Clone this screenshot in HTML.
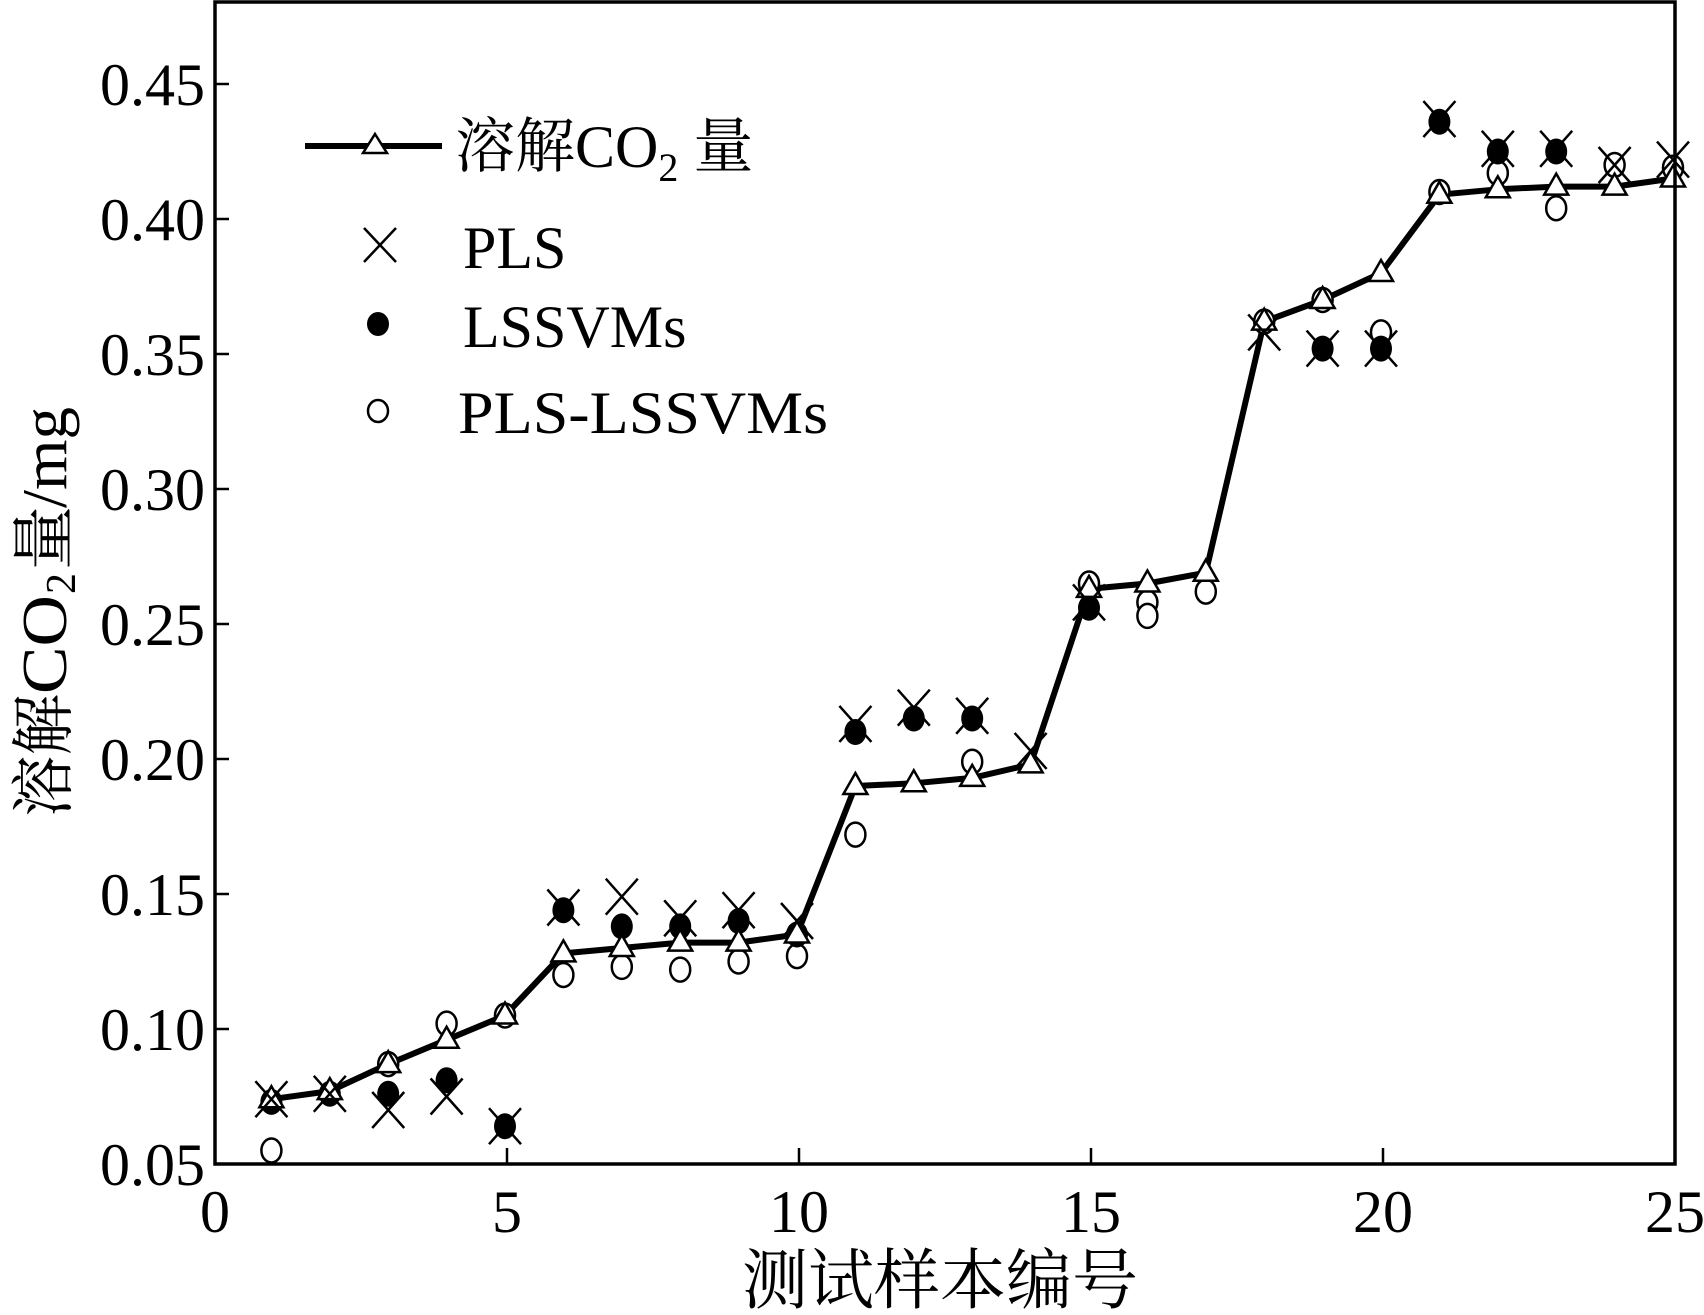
<!DOCTYPE html>
<html><head><meta charset="utf-8"><style>
html,body{margin:0;padding:0;background:#fff}
svg text{font-family:"Liberation Serif","Noto Serif CJK SC",serif;fill:#000}
</style></head><body>
<svg id="chart" width="1704" height="1310" viewBox="0 0 1704 1310" xmlns="http://www.w3.org/2000/svg">
<g id="marks"></g>
<g id="axes"></g>
<g>
  <line x1="305" y1="146" x2="442" y2="146" stroke="#000" stroke-width="6"/>
  <polygon points="375,134 387,153 363,153" fill="#fff" stroke="#000" stroke-width="2.5"/>
  <text x="455" y="167" font-size="60">溶解CO<tspan font-size="40" dy="14">2</tspan><tspan dy="-14"> 量</tspan></text>
  <g stroke="#000" stroke-width="2.5"><line x1="364" y1="228" x2="396" y2="262"/><line x1="396" y1="228" x2="364" y2="262"/></g>
  <text x="463" y="268" font-size="60">PLS</text>
  <ellipse cx="378" cy="324" rx="11" ry="12" fill="#000"/>
  <text x="463" y="347" font-size="60">LSSVMs</text>
  <ellipse cx="378" cy="411" rx="10" ry="11" fill="#fff" stroke="#000" stroke-width="2.5"/>
  <text x="458" y="433" font-size="60" textLength="370" lengthAdjust="spacingAndGlyphs">PLS-LSSVMs</text>
</g>
<text x="940" y="1303" font-size="66" text-anchor="middle">测试样本编号</text>
<g transform="translate(66,612) rotate(-90)" font-size="64">
  <text x="-205" y="0" textLength="123" lengthAdjust="spacingAndGlyphs">溶解</text>
  <text x="-82" y="0" textLength="99" lengthAdjust="spacingAndGlyphs">CO</text>
  <text x="18" y="9" font-size="42">2</text>
  <text x="42" y="0">量</text>
  <text x="104" y="0" textLength="101" lengthAdjust="spacingAndGlyphs">/mg</text>
</g>
</svg>
<script>
const samples = [1,2,3,4,5,6,7,8,9,10,11,12,13,14,15,16,17,18,19,20,21,22,23,24,25];
const measured = [0.074,0.077,0.087,0.096,0.105,0.128,0.130,0.132,0.132,0.135,0.190,0.191,0.193,0.198,0.263,0.265,0.269,0.362,0.370,0.380,0.409,0.411,0.412,0.412,0.415];
const plsPred = [0.074,0.076,0.070,0.075,0.064,0.145,0.149,0.141,0.144,0.140,0.213,0.219,0.216,0.203,0.258,null,null,0.358,0.352,0.352,0.437,0.426,0.426,0.420,0.422];
const lssvmPred = [0.073,0.076,0.076,0.081,0.064,0.144,0.138,0.138,0.140,0.135,0.210,0.215,0.215,null,0.256,null,null,null,0.352,0.352,0.436,0.425,0.425,null,null];
const plsLssvmPred = [0.055,null,0.087,0.102,0.105,0.120,0.123,0.122,0.125,0.127,0.172,null,0.199,null,0.265,0.258,0.262,0.362,0.370,0.358,0.410,0.417,0.404,0.420,0.419];
const plsLssvmExtra = [null,null,null,null,null,null,null,null,null,null,null,null,null,null,null,0.253,null,null,null,null,null,null,null,null,null];
const xTicks = [0,5,10,15,20,25];
const yTicks = [0.05,0.10,0.15,0.20,0.25,0.30,0.35,0.40,0.45];
const yTickLabels = ["0.05","0.10","0.15","0.20","0.25","0.30","0.35","0.40","0.45"];

const L=215,R=1675,T=2,B=1164,NS="http://www.w3.org/2000/svg";
const xs=v=>L+(v-0)/(25-0)*(R-L);
const ys=v=>B-(v-0.05)/(0.05)*135;
const marks=document.getElementById('marks'), axes=document.getElementById('axes');
function mk(tag,attrs,parent){const e=document.createElementNS(NS,tag);for(const k in attrs)e.setAttribute(k,attrs[k]);parent.appendChild(e);return e;}

let d=samples.map((s,i)=>(i?'L':'M')+(xs(s)-2)+','+ys(measured[i])).join(' ');
const ln=mk('path',{d:d,fill:'none',stroke:'#000','stroke-width':6,'stroke-linejoin':'round'},marks);


[plsLssvmPred,plsLssvmExtra].forEach(arr=>samples.forEach((s,i)=>{const v=arr[i];if(v==null)return;
 const c=mk('ellipse',{cx:xs(s)-2,cy:ys(v),rx:10,ry:12,fill:'#fff',stroke:'#000','stroke-width':2.5},marks);
 
 }));
samples.forEach((s,i)=>{const v=lssvmPred[i];if(v==null)return;
 const c=mk('ellipse',{cx:xs(s)-2,cy:ys(v),rx:11,ry:13,fill:'#000'},marks);
 
 });
samples.forEach((s,i)=>{const x=xs(s)-2,y=ys(measured[i]);
 const p=mk('polygon',{points:`${x},${y-13} ${x+12},${y+8} ${x-12},${y+8}`,fill:'#fff',stroke:'#000','stroke-width':2.5},marks);
 
 });
samples.forEach((s,i)=>{const v=plsPred[i];if(v==null)return;const x=xs(s)-2,y=ys(v),h=16,hv=18;
 const p=mk('path',{d:`M${x-h},${y-hv}L${x+h},${y+hv}M${x+h},${y-hv}L${x-h},${y+hv}`,stroke:'#000','stroke-width':2.5,fill:'none'},marks);
 
 });

const fr=mk('rect',{x:L,y:T,width:R-L,height:B-T,fill:'none',stroke:'#000','stroke-width':3.5},axes);


xTicks.forEach(t=>{const x=xs(t);
 mk('line',{x1:x,y1:B,x2:x,y2:B-16,stroke:'#000','stroke-width':2.5},axes);
 const tx=mk('text',{x:x,y:B+68,'font-size':60,'text-anchor':'middle'},axes);tx.textContent=t;
 
 });
yTicks.forEach((t,i)=>{const y=ys(t);
 mk('line',{x1:L,y1:y,x2:L+14,y2:y,stroke:'#000','stroke-width':2.5},axes);
 const tx=mk('text',{x:L-10,y:y+21,'font-size':60,'text-anchor':'end'},axes);tx.textContent=yTickLabels[i];
 
 });
</script>
</body></html>
